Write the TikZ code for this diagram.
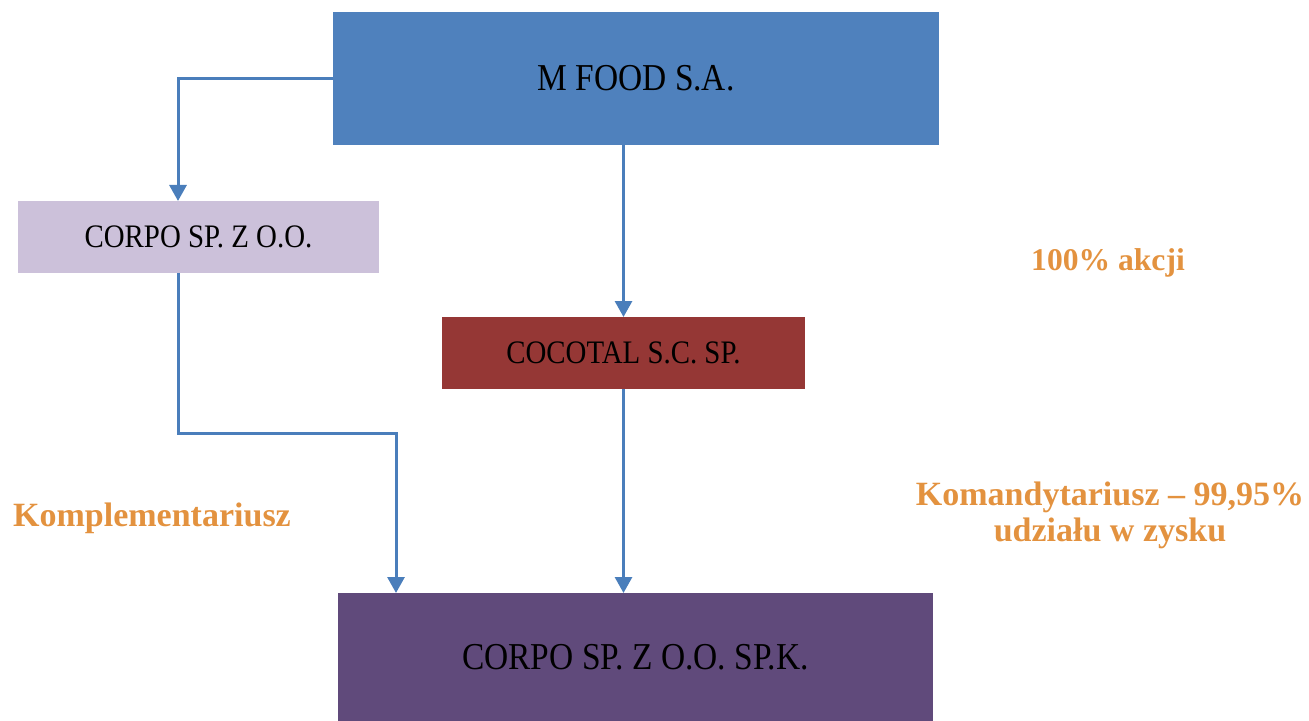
\documentclass[tikz,border=0pt]{standalone}
\usepackage{fontspec}
\setmainfont{Liberation Serif}
\usetikzlibrary{arrows.meta}
\definecolor{mfoodblue}{HTML}{4F81BD}
\definecolor{corpolilac}{HTML}{CCC1DA}
\definecolor{cocotalred}{HTML}{953735}
\definecolor{spkpurple}{HTML}{604A7B}
\definecolor{linkblue}{HTML}{4A7EBB}
\definecolor{orangelbl}{HTML}{E3923F}
\newcommand\boxtxtbig[1]{\scalebox{0.88}[1]{\fontsize{19}{22}\selectfont #1}}
\newcommand\boxtxtsmall[1]{\scalebox{0.88}[1]{\fontsize{16.4}{19}\selectfont #1}}
\begin{document}
\begin{tikzpicture}[x=0.5pt,y=-0.5pt,
  box/.style={draw=none, inner sep=0pt, outer sep=0pt, text=black},
  conn/.style={draw=linkblue, line width=1.5pt, -{Triangle[width=8.5pt,length=8pt]}},
  lbl/.style={text=orangelbl, font=\bfseries\fontsize{17}{18}\selectfont, align=center}]
\useasboundingbox (0,0) rectangle (1309,721);
\node[box, fill=mfoodblue, minimum width=303pt, minimum height=66.5pt] (mfood) at (636,78.5) {\raisebox{-1pt}{\boxtxtbig{M FOOD S.A.}}};
\node[box, fill=corpolilac, minimum width=180.5pt, minimum height=36pt] (corpo) at (198.5,237) {\boxtxtsmall{CORPO SP. Z O.O.}};
\node[box, fill=cocotalred, minimum width=181.5pt, minimum height=36pt] (cocotal) at (623.5,353) {\boxtxtsmall{COCOTAL S.C. SP.}};
\node[box, fill=spkpurple, minimum width=297.5pt, minimum height=64pt] (spk) at (635.5,657) {\raisebox{-2pt}{\boxtxtbig{CORPO SP. Z O.O. SP.K.}}};
\coordinate (corpoin) at ([xshift=-10.25pt]corpo.north);
\coordinate (corpoout) at ([xshift=-10.25pt]corpo.south);
\coordinate (spkin) at ([xshift=29pt]spk.north west);
\draw[conn] (mfood.west) -| (corpoin);
\draw[conn] (cocotal.north |- mfood.south) -- (cocotal.north);
\draw[conn] (corpoout) -- ++(0,160) -| (spkin);
\draw[conn] (cocotal.south) -- (cocotal.south |- spk.north);
\node[lbl] (komp) at (152,518) {Komplementariusz};
\node[lbl] (koman) at (1110,515) {Komandytariusz – 99,95\%\\udziału w zysku};
\node[text=orangelbl, font=\bfseries\fontsize{15.8}{18}\selectfont] (akcji) at (1108,263) {100\% akcji};
\end{tikzpicture}
\end{document}
